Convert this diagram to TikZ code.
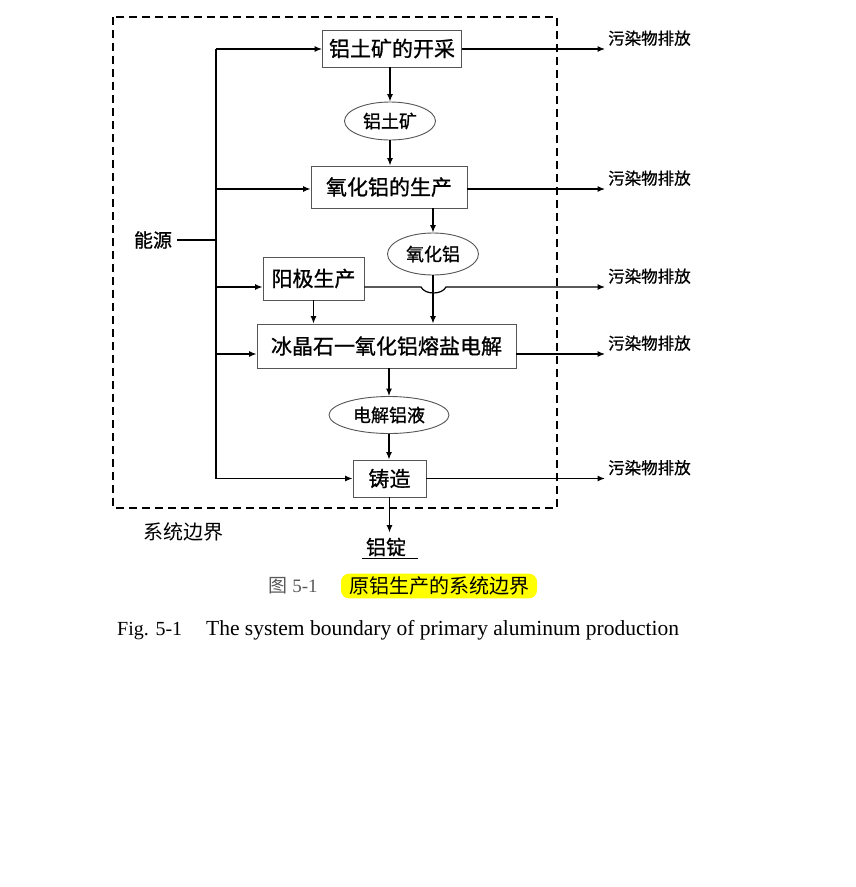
\documentclass[tikz,border=0pt]{standalone}
\usepackage{fontspec}
\setmainfont{Liberation Serif}
\newfontfamily\cjk{Noto Sans CJK SC}
\newfontfamily\cjkb[FakeBold=0.9]{Noto Sans CJK SC}
\usetikzlibrary{arrows.meta,positioning,shapes.geometric}
\definecolor{Hilite}{HTML}{FFFF00}
\definecolor{Frame}{HTML}{555555}

\begin{document}
\begin{tikzpicture}[x=1pt,y=-1pt,
    proc/.style={draw=Frame,fill=white,line width=0.9pt,inner sep=0pt,
      align=center,font=\cjkb\fontsize{21}{24}\selectfont},
    prod/.style={ellipse,draw=Frame,fill=white,line width=0.9pt,inner sep=0pt,
      font=\cjkb\fontsize{18}{20}\selectfont},
    emit/.style={anchor=south west,inner sep=0pt,font=\cjkb\fontsize{16.5}{19}\selectfont},
    arr/.style={-{Latex[length=7.5pt,width=6pt]},line width=1.2pt}
  ]
    \useasboundingbox (0,0) rectangle (855,887);
    % system boundary
    \draw[line width=2.2pt,dash pattern=on 8pt off 5pt] (113,17) rectangle (557,508);
    \node[font=\cjk\fontsize{20}{24}\selectfont] (bound) at (183,532) {系统边界};
    % process chain
    \node[proc,minimum width=139pt,minimum height=37pt] (p1) at (392,48.5) {铝土矿的开采};
    \node[prod,minimum width=91pt,minimum height=38pt] (e1) at (390,121) {铝土矿};
    \node[proc,minimum width=156pt,minimum height=42pt] (p2) at (389,187) {氧化铝的生产};
    \node[prod,minimum width=91pt,minimum height=42pt] (e2) at (433,254) {氧化铝};
    \node[proc,minimum width=101pt,minimum height=43pt] (p3) at (313.5,278.5) {阳极生产};
    \node[proc,minimum width=259pt,minimum height=44pt] (p4) at (386.5,346) {冰晶石一氧化铝熔盐电解};
    \node[prod,minimum width=120pt,minimum height=37pt] (e3) at (389,415) {电解铝液};
    \node[proc,minimum width=73pt,minimum height=37pt] (p5) at (389.5,478.5) {铸造};
    \node[font=\cjkb\fontsize{20}{24}\selectfont,inner sep=0pt] (ingot) at (386,547) {铝锭};
    \draw[line width=1.2pt] ([xshift=-4pt,yshift=-2pt]ingot.south west)
      -- ([xshift=12pt,yshift=-2pt]ingot.south east);
    \draw[arr] (p1.south -| e1.north) -- (e1.north);
    \draw[arr] (e1.south) -- (e1.south |- p2.north);
    \draw[arr] (p2.south -| e2.north) -- (e2.north);
    \draw[arr] (p3.south) -- (p3.south |- p4.north);
    \draw[arr] (e2.south) -- (e2.south |- p4.north);
    \draw[arr] (p4.south -| e3.north) -- (e3.north);
    \draw[arr] (e3.south) -- (e3.south |- p5.north);
    \draw[arr] (p5.south) -- ([yshift=5pt]p5.south |- ingot.north);
    % energy input
    \node[font=\cjkb\fontsize{19}{22}\selectfont,inner xsep=5pt] (energy) at (153,240) {能源};
    \coordinate (t1) at (216,49);
    \coordinate (t2) at (216,189);
    \coordinate (t3) at (216,287);
    \coordinate (t4) at (216,354);
    \coordinate (t5) at (216,478.5);
    \draw[line width=1.2pt] (t1) -- (t5);
    \draw[line width=1.2pt] (energy.east) -- (energy.east -| t1);
    \foreach \t/\p in {t1/p1,t2/p2,t3/p3,t4/p4,t5/p5}
      \draw[arr] (\t) -- (\t -| \p.west);
    % emissions
    \coordinate (o1) at (605,49);
    \coordinate (o2) at (605,189);
    \coordinate (o3) at (605,287);
    \coordinate (o4) at (605,354);
    \coordinate (o5) at (605,478.5);
    \coordinate (h1) at (421,287);
    \coordinate (h2) at (446,287);
    \foreach \o/\p in {o1/p1,o2/p2,o4/p4,o5/p5}
      \draw[arr] (\o -| \p.east) -- (\o);
    \draw[arr] (o3 -| p3.east) -- (h1) .. controls (425,295) and (442,295) .. (h2) -- (o3);
    \foreach \o in {o1,o2,o3,o4,o5}
      \node[emit] at ([xshift=3pt,yshift=3pt]\o) {污染物排放};
    % caption
    \node[anchor=west,text=black!65,font=\fontsize{19}{22}\selectfont] (figno) at (265,586)
      {{\cjk 图} 5-1};
    \node[fill=Hilite,rounded corners=8pt,inner xsep=8pt,inner ysep=3pt,
      font=\cjk\fontsize{20}{24}\selectfont] (capcn) at (439,586) {原铝生产的系统边界};
    \node[anchor=west,inner sep=0pt,font=\fontsize{20}{24}\selectfont] (capen) at (117,630)
      {Fig. 5-1\hspace{24pt}{\fontsize{21.5}{24}\selectfont The system boundary of primary aluminum production}};
  \end{tikzpicture}
\end{document}
